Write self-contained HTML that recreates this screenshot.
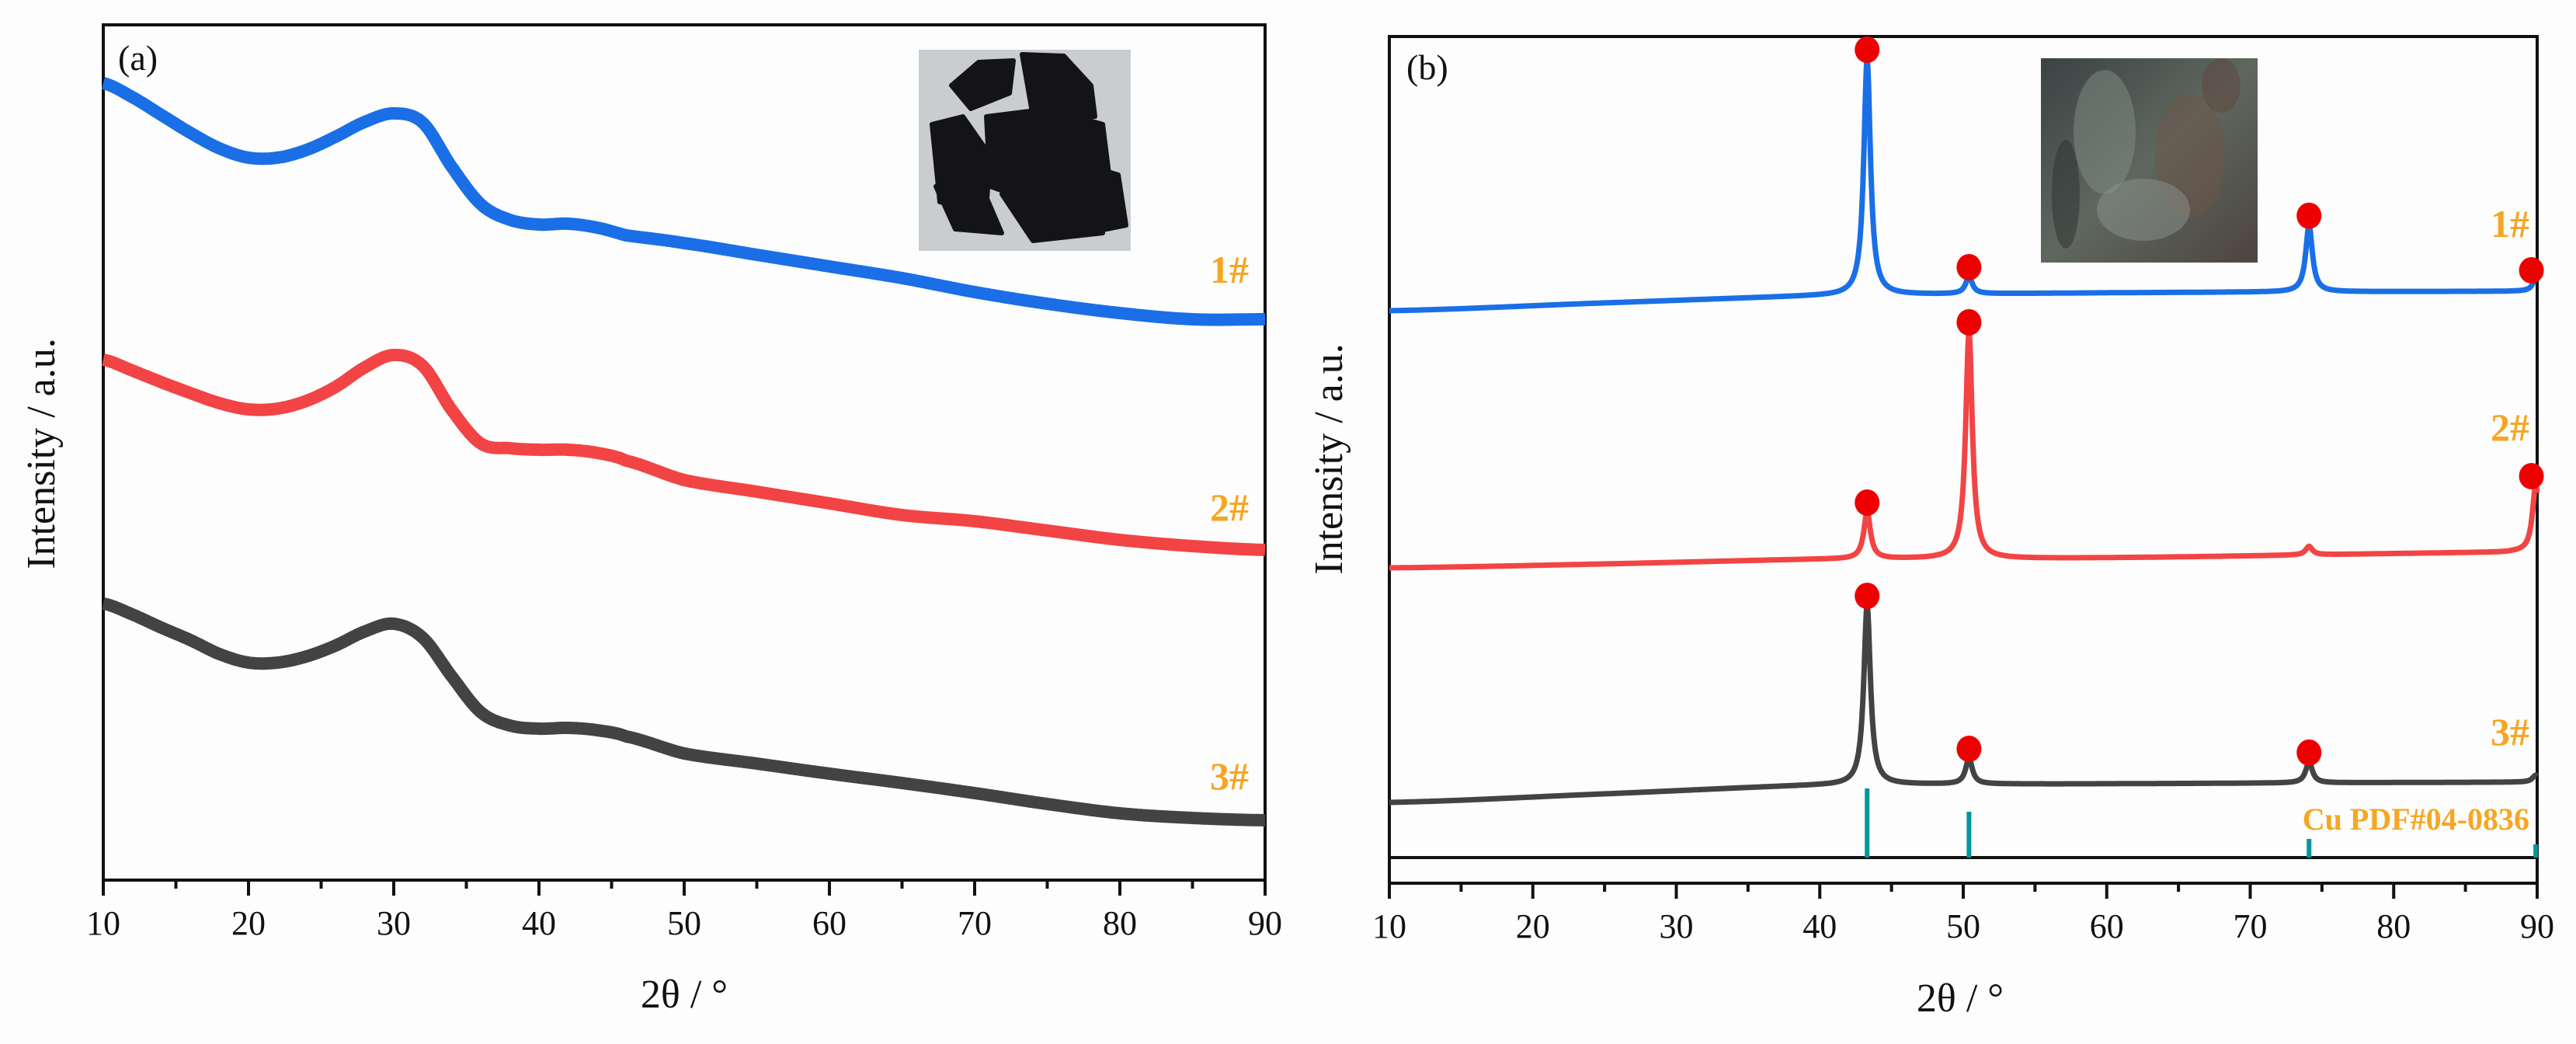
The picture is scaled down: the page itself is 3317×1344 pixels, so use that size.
<!DOCTYPE html>
<html><head><meta charset="utf-8"><style>
html,body{margin:0;padding:0;background:#fdfdfd;}
svg{display:block;}
text{font-family:"Liberation Serif",serif;}
</style></head><body>
<svg id="fig" width="3317" height="1344" viewBox="0 0 3317 1344" xmlns="http://www.w3.org/2000/svg">
<rect x="0" y="0" width="3317" height="1344" fill="#fdfdfd"/>
<g id="pa"></g>
<g id="pb"></g>
</svg>
<script>
// ---------- Panel (a) data: amorphous XRD anchors (2theta, pixel-intensity units) ----------
const aTheta = [10,12,14,16,18,20,22,24,26,28,30,32,34,36,38,40,42,44,46,50,55,60,65,70,75,80,85,90];
const aBlue  = [1026,1008,985,962,942,930,930,940,957,976,987,975,918,870,850,844,845,840,830,820,805,790,775,757,742,730,722,722];
const aRed   = [670,656,641,627,614,606,607,617,635,660,676,662,605,562,556,554,554,550,540,515,500,485,470,462,450,438,430,425];
const aGray  = [356,342,325,309,291,280,280,288,302,320,330,312,262,216,199,195,196,193,185,163,150,137,125,112,98,86,80,77];
const aTicks = [10,20,30,40,50,60,70,80,90];

// ---------- Panel (b) data: crystalline XRD ----------
const bBaseTheta = [10,25,40,60,88,90];
const bBaseBlue  = [704,714,723,727,729,729];
const bBaseRed   = [373,378,384,386,393,393];
const bBaseGray  = [71,82,93,95,97,97];
const peakPos    = [43.3,50.4,74.1,89.9];
const peakBlue   = [304,22,86,15];
const peakRed    = [60,292,11,86];
const peakGray   = [231,33,27,9];
const refPos     = [43.3,50.4,74.1,89.9];
const refHeight  = [89,59,24,17];
const markBlue   = [43.3,50.4,74.1,89.9];
const markRed    = [43.3,50.4,89.9];
const markGray   = [43.3,50.4,74.1];
const bTicks     = [10,20,30,40,50,60,70,80,90];

const NS="http://www.w3.org/2000/svg";
function mk(tag,attrs,parent){const e=document.createElementNS(NS,tag);for(const k in attrs)e.setAttribute(k,attrs[k]);parent.appendChild(e);return e;}

function interp(xs,ys,x){
  for(let i=0;i<xs.length-1;i++){
    if(x>=xs[i]&&x<=xs[i+1]){
      const p0=ys[Math.max(0,i-1)],p1=ys[i],p2=ys[i+1],p3=ys[Math.min(ys.length-1,i+2)];
      const t=(x-xs[i])/(xs[i+1]-xs[i]);
      return 0.5*((2*p1)+(-p0+p2)*t+(2*p0-5*p1+4*p2-p3)*t*t+(-p0+3*p1-3*p2+p3)*t*t*t);
    }
  }
  return ys[ys.length-1];
}

function drawAxes(g,L,R,T,B,xs,ticks){
  const f=mk('rect',{x:L,y:T,width:R-L,height:B-T,fill:'none',stroke:'#111','stroke-width':4},g);
  
  
  for(let v=10;v<=90;v+=5){
    const major=v%10===0;
    const t=mk('line',{x1:xs(v),x2:xs(v),y1:B,y2:B+(major?20:11),stroke:'#111','stroke-width':4},g);
    
    
  }
  ticks.forEach(v=>{
    const tx=mk('text',{x:xs(v),y:B+70,'font-size':44,'text-anchor':'middle',fill:'#111'},g);
    tx.textContent=v;
    
    
  });
}

// ---------------- Panel A ----------------
(function(){
  const g=document.getElementById('pa');
  const L=133,R=1629,T=32,B=1133;
  const xs=v=>L+(v-10)*(R-L)/80;
  const ys=v=>B-v;
  const ph=mk('g',{},g);
  
  
  mk('rect',{x:1183,y:64,width:273,height:259,fill:'#c9cdcf'},ph);
  const rocks=[[1225,110,1260,80,1305,78,1300,120,1250,140],[1316,70,1370,72,1405,110,1410,150,1330,150],[1200,160,1240,150,1275,200,1270,270,1210,260],[1270,150,1350,140,1420,160,1430,240,1330,260,1275,240],[1205,240,1260,230,1290,300,1230,295],[1290,250,1390,230,1420,300,1330,310],[1390,210,1440,225,1450,290,1400,300]];
  rocks.forEach(r=>{const p=mk('polygon',{points:r.join(','),fill:'#141416','stroke':'#141416','stroke-width':6,'stroke-linejoin':'round'},ph);});
  drawAxes(g,L,R,T,B,xs,aTicks);
  const cols=['#1a6fe6','#f24444','#434343'];
  const names=['curve-1','curve-2','curve-3'];
  [aBlue,aRed,aGray].forEach((arr,k)=>{
    let d='';
    for(let x=10;x<=90.001;x+=0.1){
      const v=interp(aTheta,arr,x);
      d+=(d?'L':'M')+xs(x).toFixed(1)+','+ys(v).toFixed(1);
    }
    const p=mk('path',{d:d,fill:'none',stroke:cols[k],'stroke-width':16,'stroke-linejoin':'round'},g);
    
    
  });
  const lab=[['1#',348],['2#',654],['3#',1000]];
  lab.forEach(l=>{
    const t=mk('text',{x:1583,y:l[1]+16,'font-size':50,'font-weight':'bold','text-anchor':'middle',fill:'#f6a623'},g);
    t.textContent=l[0];
    
    
  });
  const pl=mk('text',{x:152,y:90,'font-size':46,fill:'#111'},g);pl.textContent='(a)';
  
  
  const yt=mk('text',{x:0,y:0,'font-size':52,'text-anchor':'middle',fill:'#111',transform:'translate(70,584) rotate(-90)'},g);yt.textContent='Intensity / a.u.';
  
  
  const xt=mk('text',{x:881,y:1297,'font-size':52,'text-anchor':'middle',fill:'#111'},g);xt.textContent='2θ / °';
  
  
})();

// ---------------- Panel B ----------------
(function(){
  const g=document.getElementById('pb');
  const L=1789,R=3267,T=47,B=1137,Y0=1104;
  const xs=v=>L+(v-10)*(R-L)/80;
  const ys=v=>Y0-v;
  const ph=mk('g',{},g);
  
  
  const defs=mk('defs',{},g);
  const lg=mk('linearGradient',{id:'cug',x1:0,y1:0,x2:1,y2:1},defs);
  mk('stop',{offset:'0','stop-color':'#3a4244'},lg);mk('stop',{offset:'0.5','stop-color':'#5f675f'},lg);mk('stop',{offset:'1','stop-color':'#4c4440'},lg);
  mk('rect',{x:2628,y:75,width:279,height:263,fill:'url(#cug)'},ph);
  [[2710,170,40,80,'#7f8e86'],[2820,200,45,80,'#6e5448'],[2760,270,60,40,'#8a948c'],[2860,110,25,35,'#5e463c'],[2660,250,18,70,'#2a2f2f']].forEach(e=>{
    const el=mk('ellipse',{cx:e[0],cy:e[1],rx:e[2],ry:e[3],fill:e[4],opacity:0.5},ph);
    
    
  });
  drawAxes(g,L,R,T,B,xs,bTicks);
  const sep=mk('line',{x1:L,x2:R,y1:Y0,y2:Y0,stroke:'#111','stroke-width':4},g);
  
  
  const w=0.28;
  function val(x,base,h){let v=interp(bBaseTheta,base,x);peakPos.forEach((p,i)=>{const d=(x-p)/w;v+=h[i]/(1+d*d);});return v;}
  const cols=['#1a6fe6','#f24444','#434343'];
  const names=['curve-1','curve-2','curve-3'];
  const bases=[bBaseBlue,bBaseRed,bBaseGray],hs=[peakBlue,peakRed,peakGray],marks=[markBlue,markRed,markGray];
  for(let k=0;k<3;k++){
    let d='';
    for(let x=10;x<=90.001;x+=0.04){
      d+=(d?'L':'M')+xs(x).toFixed(1)+','+ys(val(x,bases[k],hs[k])).toFixed(1);
    }
    const p=mk('path',{d:d,fill:'none',stroke:cols[k],'stroke-width':7,'stroke-linejoin':'round'},g);
    
    
  }
  refPos.forEach((p,i)=>{
    const s=mk('line',{x1:xs(p),x2:xs(p),y1:Y0,y2:ys(refHeight[i]),stroke:'#00979b','stroke-width':6},g);
    
    
  });
  for(let k=0;k<3;k++){
    marks[k].forEach(m=>{
      const v=val(m,bases[k],hs[k])+12;
      const c=mk('ellipse',{cx:xs(Math.min(m,89.6)),cy:ys(v),rx:16,ry:17,fill:'#ee0000'},g);
      
      
    });
  }
  const lab=[['1#',289],['2#',551],['3#',943]];
  lab.forEach(l=>{
    const t=mk('text',{x:3232,y:l[1]+16,'font-size':50,'font-weight':'bold','text-anchor':'middle',fill:'#f6a623'},g);
    t.textContent=l[0];
    
    
  });
  const cu=mk('text',{x:3257,y:1068,'font-size':40,'font-weight':'bold','text-anchor':'end',fill:'#f6a623'},g);cu.textContent='Cu PDF#04-0836';
  
  
  const pl=mk('text',{x:1811,y:102,'font-size':46,fill:'#111'},g);pl.textContent='(b)';
  
  
  const yt=mk('text',{x:0,y:0,'font-size':52,'text-anchor':'middle',fill:'#111',transform:'translate(1728,591) rotate(-90)'},g);yt.textContent='Intensity / a.u.';
  
  
  const xt=mk('text',{x:2524,y:1302,'font-size':52,'text-anchor':'middle',fill:'#111'},g);xt.textContent='2θ / °';
  
  
})();
</script>
</body></html>
